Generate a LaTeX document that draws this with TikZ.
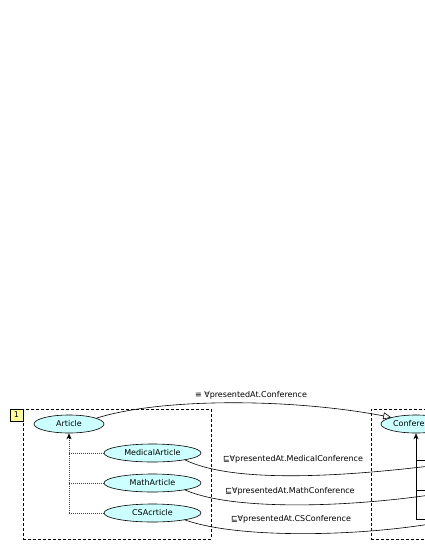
\documentclass[tikz,border=0pt]{standalone}
\usepackage{fontspec}
\setmainfont{DejaVu Sans}
\usetikzlibrary{arrows.meta,shapes.geometric}
\definecolor{clsfill}{RGB}{204,255,255}
\definecolor{tagfill}{RGB}{255,255,153}
\begin{document}
\begin{tikzpicture}[x=1pt,y=-1pt,
  font=\fontsize{8}{9.5}\selectfont,
  line width=0.6pt,
  cls/.style={ellipse, draw, fill=clsfill, minimum height=18pt, inner sep=0pt},
  frame/.style={draw, dash pattern=on 3pt off 2pt, minimum width=188pt, minimum height=130pt, inner sep=0pt},
  tagbox/.style={draw, fill=tagfill, minimum width=13pt, minimum height=12pt, inner sep=0pt},
  sub/.style={dash pattern=on 0.8pt off 1.2pt, line width=0.6pt, black!75},
  rel/.style={line width=0.6pt}]
\useasboundingbox (0,0) rectangle (425,550);
\clip (0,0) rectangle (425,550);
% frames
\node[frame] (box1) at (117,474) {};
\node[frame] (box2) at (465,474) {};
\node[tagbox] (tag1) at (16.5,415) {1};
% classes
\node[cls, minimum width=70pt] (article) at (69,424) {Article};
\node[cls, minimum width=97pt] (med) at (152.5,453) {MedicalArticle};
\node[cls, minimum width=97pt] (math) at (152.5,483) {MathArticle};
\node[cls, minimum width=97pt] (cs) at (152.5,513) {CSAcrticle};
\node[cls, minimum width=70pt] (conf) at (416,424) {Conference};
% left hierarchy
\coordinate (lb) at (article.south |- cs.west);
\draw[sub] (lb) -- ([yshift=-5pt]article.south);
\draw[-{Stealth[length=6pt,width=5pt]}, line width=0.6pt] ([yshift=-6pt]article.south) -- (article.south);
\draw[sub] (med.west) -- (med.west -| article.south);
\draw[sub] (math.west) -- (math.west -| article.south);
\draw[sub] (cs.west) -- (cs.west -| article.south);
% right hierarchy
\coordinate (rb) at (416,519);
\coordinate (r1) at (440,460);
\coordinate (r2) at (440,490);
\coordinate (r3) at (440,519);
\draw[rel, -{Stealth[length=6pt,width=5pt]}] (rb) -- (conf.south);
\draw[rel] (416,460) -- (r1);
\draw[rel] (416,490) -- (r2);
\draw[rel] (rb) -- (r3);
% relations
\draw[rel, -{Triangle[open,length=8pt,width=7pt]}] (article.12) .. controls (160,398) and (290,398) .. (conf.165);
\coordinate (e1) at (430,466);
\coordinate (e2) at (430,495);
\coordinate (e3) at (430,524);
\draw[rel] (med.-12) .. controls (230,482) and (330,478) .. (e1);
\draw[rel] (math.-12) .. controls (230,510) and (340,508) .. (e2);
\draw[rel] (cs.-12) .. controls (235,538) and (350,537) .. (e3);
% labels
\node (l0) at (251,395) {≡ ∀presentedAt.Conference};
\node (l1) at (293,459) {⊑∀presentedAt.MedicalConference};
\node (l2) at (290,491) {⊑∀presentedAt.MathConference};
\node (l3) at (291,519) {⊑∀presentedAt.CSConference};
\end{tikzpicture}
\end{document}
